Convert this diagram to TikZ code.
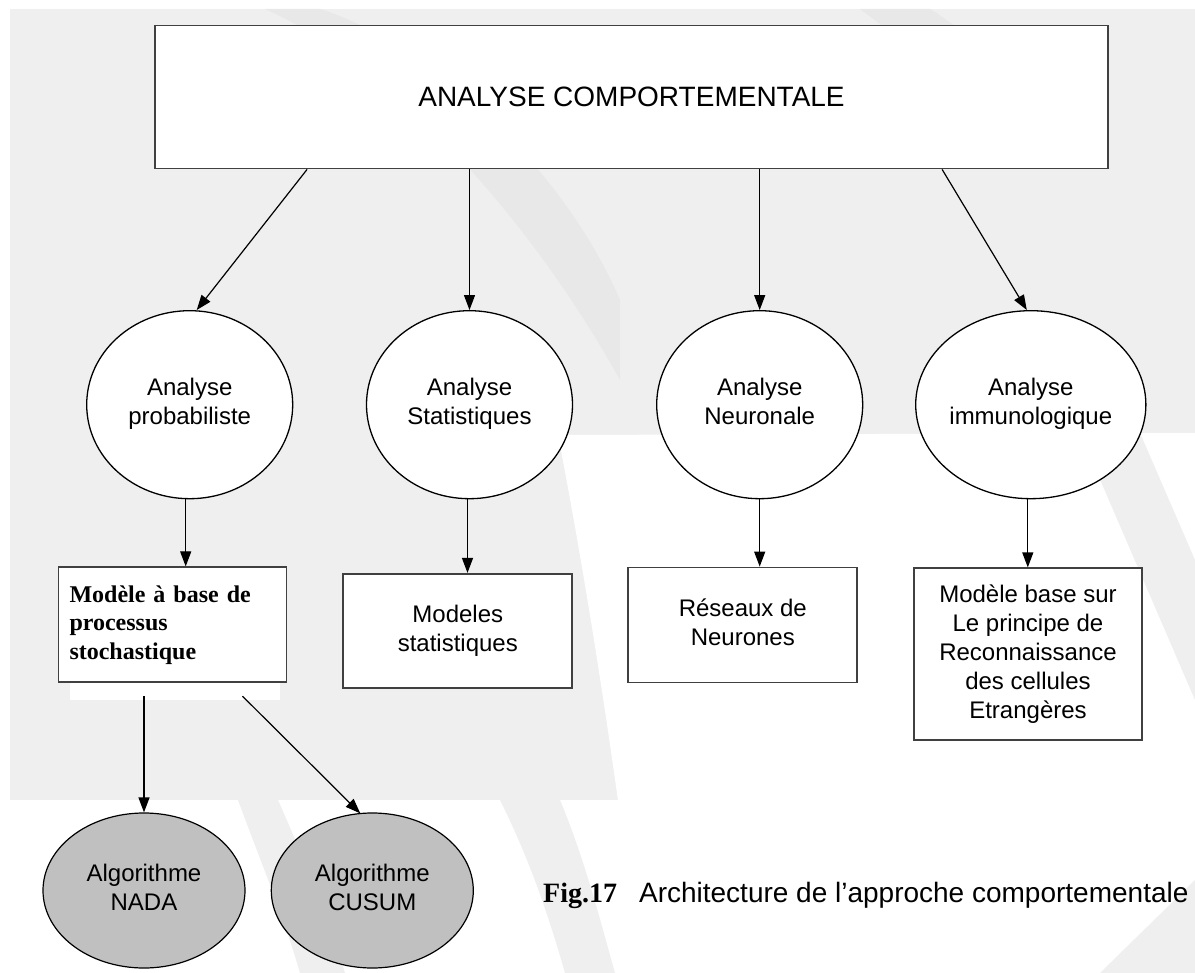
\documentclass[tikz,border=0pt]{standalone}
\usepackage{fontspec}
\setmainfont{Liberation Sans}
\newfontfamily\timesbold[BoldFont={Liberation Serif Bold}]{Liberation Serif}
\usetikzlibrary{shapes.geometric,arrows.meta}
\definecolor{wmgray}{HTML}{EFEFEF}
\definecolor{wmdark}{HTML}{E8E8E8}
\definecolor{algofill}{HTML}{C0C0C0}
\definecolor{boxline}{HTML}{404040}
\tikzset{
  blockbox/.style={draw=boxline, line width=1.8pt, fill=white, rectangle, inner sep=0pt,
    align=center, font=\fontsize{24}{29}\selectfont},
  analysis/.style={draw=black, line width=1.3pt, fill=white, ellipse, inner sep=0pt,
    minimum width=206pt, minimum height=188pt, align=center,
    font=\fontsize{24}{29}\selectfont},
  algo/.style={draw=black, line width=1.2pt, fill=algofill, ellipse, inner sep=0pt,
    minimum width=202pt, minimum height=155pt, align=center,
    font=\fontsize{24}{29}\selectfont},
  link/.style={draw=black, line width=1.2pt, -{Triangle[length=15pt,width=11pt]}},
}
\begin{document}
\begin{tikzpicture}[x=1pt,y=-1pt]
\useasboundingbox (0,0) rectangle (1195,973);
% faint watermark behind the diagram
\fill[white] (0,0) rectangle (1195,973);
\fill[wmgray] (10,9) rectangle (1195,800);
\fill[wmdark] (265,9) .. controls (380,60) and (520,200) .. (620,380) -- (620,300) .. controls (560,160) and (420,40) .. (320,9) -- cycle;
\fill[wmdark] (860,9) .. controls (930,60) and (990,120) .. (1040,169) -- (1110,169) .. controls (1040,100) and (980,40) .. (930,9) -- cycle;
\fill[white] (558,435) -- (1195,433) -- (1195,973) -- (640,973) .. controls (620,800) and (590,600) .. (558,435) -- cycle;
\fill[wmgray] (1080,433) -- (1140,433) -- (1195,560) -- (1195,700) -- cycle;
\fill[wmgray] (1100,973) -- (1195,880) -- (1195,973) -- cycle;
\fill[white] (70,683) rectangle (280,700);
% stripes across the lower band
\fill[wmgray] (238,800) .. controls (260,860) and (285,920) .. (300,973) -- (345,973) .. controls (325,910) and (300,850) .. (278,800) -- cycle;
\fill[wmgray] (500,800) .. controls (530,860) and (550,920) .. (565,973) -- (615,973) .. controls (600,920) and (585,860) .. (560,800) -- cycle;

% top block
\node[blockbox, minimum width=953pt, minimum height=143pt, font=\fontsize{28}{34}\selectfont]
  (top) at (631.5,97) {ANALYSE COMPORTEMENTALE};

% analysis families
\node[analysis] (s1) at (189.7,404.7) {\strut Analyse\\probabiliste\strut};
\node[analysis] (s2) at (469.5,404.7) {\strut Analyse\\Statistiques\strut};
\node[analysis] (s3) at (759.7,404.7) {\strut Analyse\\Neuronale\strut};
\node[analysis] (s4) at (1030.8,404.7) {\strut Analyse\\immunologique\strut};

% models
\node[blockbox, minimum width=228pt, minimum height=115pt, align=left,
  text width=206pt, font=\timesbold\bfseries\fontsize{24}{28.5}\selectfont]
  (b1) at (172.5,624.8) {\strut Modèle à base de\\processus\\stochastique\strut};
\node[blockbox, minimum width=229pt, minimum height=114pt] (b2) at (457.8,630.8)
  {\strut Modeles\\statistiques\strut};
\node[blockbox, minimum width=229pt, minimum height=115pt] (b3) at (742.8,625)
  {\strut Réseaux de\\Neurones\strut};
\node[blockbox, minimum width=228pt, minimum height=172pt] (b4) at (1028,654.3)
  {\strut Modèle base sur\\Le principe de\\Reconnaissance\\des cellules\\Etrangères\strut};

% algorithms
\node[algo] (n1) at (144,890.5) {\strut Algorithme\\NADA\strut};
\node[algo] (n2) at (372.3,890.5) {\strut Algorithme\\CUSUM\strut};

% caption
\node[anchor=base west, inner sep=0pt, font=\fontsize{28}{34}\selectfont] (cap) at (543,902)
  {{\timesbold\bfseries Fig.17}\hspace{22pt}Architecture de l’approche comportementale};

% connectors
\draw[link] ([xshift=153pt]top.south west) -- ([xshift=7pt]s1.north);
\draw[link] (top.south -| s2.north) -- (s2.north);
\draw[link] (top.south -| s3.north) -- (s3.north);
\draw[link] ([xshift=788pt]top.south west) -- ([xshift=-4pt]s4.north);

\draw[link] ([xshift=-4pt]s1.south) -- ([xshift=-4pt]s1.south |- b1.north);
\draw[link] ([xshift=-2pt]s2.south) -- ([xshift=-2pt]s2.south |- b2.north);
\draw[link] (s3.south) -- (s3.south |- b3.north);
\draw[link] ([xshift=-3pt]s4.south) -- ([xshift=-3pt]s4.south |- b4.north);

\draw[link] ([yshift=-13pt]b1.south -| n1.north) -- (n1.north);
\draw[link] ([xshift=70pt,yshift=-13pt]b1.south) -- ([xshift=-12pt,yshift=-1pt]n2.north);
\end{tikzpicture}
\end{document}
